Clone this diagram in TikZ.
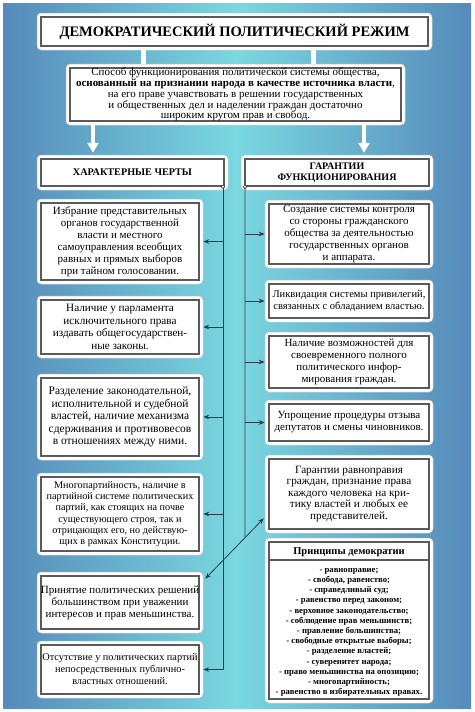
\documentclass[tikz,border=0pt]{standalone}
\usepackage{fontspec}
\setmainfont{Liberation Serif}
\usetikzlibrary{arrows.meta,calc}
\definecolor{bgedge}{RGB}{86,138,186}
\definecolor{bgmid}{RGB}{122,216,224}
\definecolor{lnc}{RGB}{40,62,72}
\definecolor{brd}{RGB}{90,90,90}
\tikzset{
  outerbox/.style={fill=white, draw=black!22, line width=0.5pt, rounded corners=4pt, inner sep=0pt},
  innerbox/.style={fill=white, draw=brd, line width=1.7pt, inner sep=0pt},
  txt/.style={align=center, font=\fontsize{11}{12}\selectfont, inner sep=0pt},
  conn/.style={draw=lnc, line width=0.8pt},
  arr/.style={conn, -{Stealth[length=6pt,width=4.5pt]}},
  darr/.style={conn, {Stealth[length=6pt,width=4.5pt]}-{Stealth[length=6pt,width=4.5pt]}},
  wline/.style={draw=white, line width=5pt},
  warr/.style={draw=white, line width=4pt, -{Triangle[width=11pt,length=10pt]}},
  dotc/.style={fill=white, draw=lnc, line width=0.6pt}
}
\newcommand\dbox[7][]{%
  \node[outerbox, minimum width={#5pt-#3pt}, minimum height={#6pt-#4pt}] (#2o) at ({(#3+#5)/2},{(#4+#6)/2}) {};
  \node[innerbox, minimum width={#5pt-#3pt-8pt}, minimum height={#6pt-#4pt-8pt}] (#2) at (#2o.center) {};
  \node[txt,#1] (#2t) at (#2.center) {#7};}
\begin{document}
\begin{tikzpicture}[x=1pt,y=-1pt]
\useasboundingbox (0,0) rectangle (474,712);
\fill[white] (0,0) rectangle (474,712);
\shade[left color=bgedge, right color=bgedge, middle color=bgmid] (3,3) rectangle (471,708);

% title and description
\dbox[font=\bfseries\fontsize{14.5}{16}\selectfont]{title}{37}{13}{432}{50}{ДЕМОКРАТИЧЕСКИЙ ПОЛИТИЧЕСКИЙ РЕЖИМ}
\dbox[font=\fontsize{11}{10.8}\selectfont]{desc}{66}{64}{405}{125}{Способ функционирования политической системы общества,\\
\textbf{основанный на признании народа в качестве источника власти},\\
на его праве учавствовать в решении государственных\\
и общественных дел и наделении граждан достаточно\\
широким кругом прав и свобод.}

% headers
\dbox[font=\bfseries\fontsize{10.2}{10.5}\selectfont]{hl}{37}{155}{228}{190}{ХАРАКТЕРНЫЕ ЧЕРТЫ}
\dbox[font=\bfseries\fontsize{10}{11}\selectfont]{hr}{241}{155}{433}{190}{ГАРАНТИИ\\ФУНКЦИОНИРОВАНИЯ}

% left column
\dbox{l1}{37}{199}{203}{284}{Избрание представительных\\органов государственной\\власти и местного\\самоуправления всеобщих\\равных и прямых выборов\\при тайном голосовании.}
\dbox[font=\fontsize{11.2}{12.5}\selectfont]{l2}{37}{296}{203}{358}{Наличие у парламента\\исключительного права\\издавать общегосударствен-\\ные законы.}
\dbox[font=\fontsize{11.5}{12.5}\selectfont]{l3}{37}{374}{203}{460}{Разделение законодательной,\\исполнительной и судебной\\властей, наличие механизма\\сдерживания и противовесов\\в отношениях между ними.}
\dbox[font=\fontsize{10.2}{11.3}\selectfont]{l4}{37}{473}{203}{555}{Многопартийность, наличие в\\партийной системе политических\\партий, как стоящих на почве\\существующего строя, так и\\отрицающих его, но действую-\\щих в рамках Конституции.}
\dbox{l5}{37}{572}{203}{633}{Принятие политических решений\\большинством при уважении\\интересов и прав меньшинства.}
\dbox[font=\fontsize{10.3}{12}\selectfont]{l6}{37}{641}{203}{698}{Отсутствие у политических партий\\непосредственных публично-\\властных отношений.}

% right column
\dbox{r1}{265}{200}{433}{268}{Создание системы контроля\\со стороны гражданского\\общества за деятельностью\\государственных органов\\и аппарата.}
\dbox[font=\fontsize{10.5}{12}\selectfont]{r2}{265}{280}{433}{322}{Ликвидация системы привилегий,\\связанных с обладанием властью.}
\dbox{r3}{265}{332}{433}{392}{Наличие возможностей для\\своевременного полного\\политического инфор-\\мирования граждан.}
\dbox{r4}{265}{400}{433}{445}{Упрощение процедуры отзыва\\депутатов и смены чиновников.}
\dbox[font=\fontsize{11.2}{11.5}\selectfont]{r5}{265}{455}{433}{533}{Гарантии равноправия\\граждан, признание права\\каждого человека на кри-\\тику властей и любых ее\\представителей.}
\dbox{r6}{265}{538}{433}{703}{}
\draw[draw=brd, line width=1.2pt] (r6.west |- 0,560) -- (r6.east |- 0,560);
\node[txt, font=\bfseries\fontsize{10.5}{12}\selectfont] (r6h) at (r6.north |- 0,552) {Принципы демократии};
\node[txt, anchor=north, font=\bfseries\fontsize{8.7}{10.2}\selectfont] (r6l) at (r6.north |- 0,568) {- равноправие;\\
- свобода, равенство;\\
- справедливый суд;\\
- равенство перед законом;\\
- верховное законодательство;\\
- соблюдение прав меньшинств;\\
- правление большинства;\\
- свободные открытые выборы;\\
- разделение властей;\\
- суверенитет народа;\\
- право меньшинства на опозицию;\\
- многопартийность;\\
- равенство в избирательных правах.};

% white connectors
\draw[wline] (143,0 |- titleo.south) -- (143,0 |- desco.north);
\draw[wline] (313,0 |- titleo.south) -- (313,0 |- desco.north);
\draw[warr, shorten >=2pt] (93,0 |- desco.south) -- (93,0 |- hlo.north);
\draw[warr, shorten >=2pt] (364,0 |- desco.south) -- (364,0 |- hro.north);

% left trunk
\coordinate (lt) at (223,0 |- hl.south);
\draw[arr] (lt) -- (223,0 |- l6o.east) -- (l6o.east);
\draw[arr] (223,0 |- l1o.east) -- (l1o.east);
\draw[arr] (223,0 |- l2o.east) -- (l2o.east);
\draw[arr] (223,0 |- l3o.east) -- (l3o.east);
\draw[arr] (223,0 |- l4o.east) -- (l4o.east);

% right trunk
\coordinate (rt) at (245,0 |- hr.south);
\coordinate (rb) at (245,700);
\coordinate (d1) at ($(r5o.south west)+(-1,-15)$);
\coordinate (d2) at ($(l5o.north east)+(2,7)$);
\draw[darr] (d1) -- (d2);
\draw[conn] (rt) -- (intersection of rt--rb and d1--d2);
\draw[arr] (245,0 |- r1o.west) -- (r1o.west);
\draw[arr] (245,0 |- r2o.west) -- (r2o.west);
\draw[arr] (245,0 |- r3o.west) -- (r3o.west);
\draw[arr] (245,0 |- r4o.west) -- (r4o.west);

\draw[dotc] (lt) circle (1.8);
\draw[dotc] (rt) circle (1.8);
\end{tikzpicture}
\end{document}
